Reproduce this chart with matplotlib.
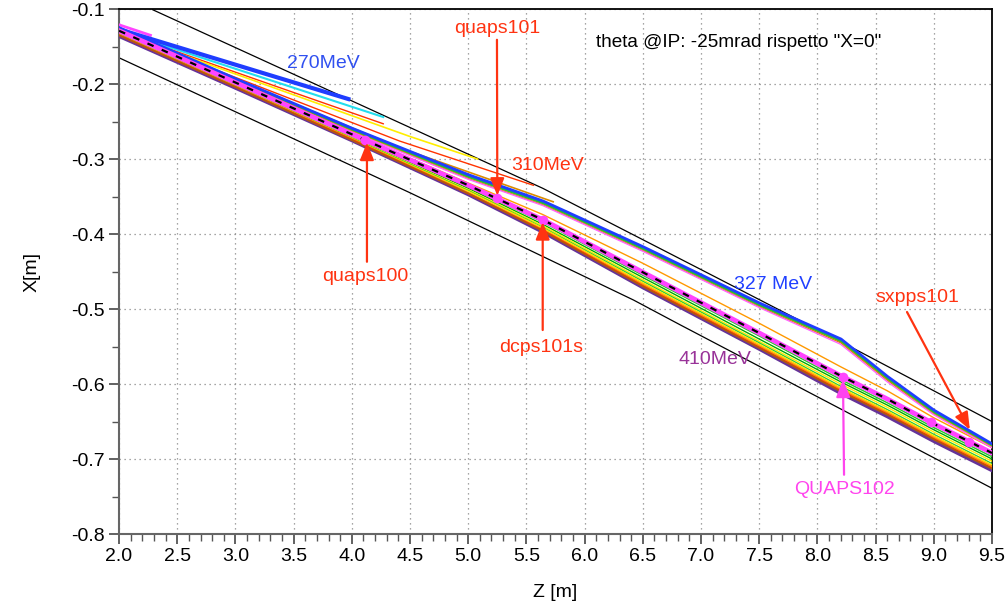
import matplotlib
matplotlib.use("Agg")
import matplotlib.pyplot as plt
from matplotlib.ticker import MultipleLocator

plt.rcParams['font.family'] = ['Liberation Sans', 'DejaVu Sans']

# posizioni lungo Z dove sono campionate le traiettorie [m]
z_knots = [2.0, 3.0, 4.0, 5.0, 5.64, 6.5, 7.5, 8.2, 8.6, 9.0, 9.5]

# orbita di riferimento
x_ref = [-0.129, -0.198, -0.267, -0.335, -0.381, -0.451, -0.532, -0.589, -0.620, -0.653, -0.692]

# gruppo alto (327 MeV e vicine)
x_327 = [-0.126, -0.194, -0.260, -0.322, -0.357, -0.418, -0.493, -0.541, -0.591, -0.636, -0.681]
x_up_green = [-0.127, -0.196, -0.262, -0.324, -0.359, -0.420, -0.495, -0.543, -0.593, -0.638, -0.683]
x_up_gold = [-0.127, -0.196, -0.263, -0.326, -0.361, -0.422, -0.497, -0.545, -0.595, -0.640, -0.684]
x_up_pink = [-0.128, -0.197, -0.264, -0.327, -0.362, -0.423, -0.498, -0.547, -0.597, -0.641, -0.685]
x_mid_orange = [-0.128, -0.197, -0.266, -0.332, -0.374, -0.439, -0.519, -0.577, -0.609, -0.645, -0.685]

# gruppo basso (fino a 410 MeV)
lower_tracks = [
    ('#22CC22', 1.0, [-0.130, -0.199, -0.269, -0.337, -0.384, -0.455, -0.536, -0.594, -0.625, -0.658, -0.697]),
    ('#00AA00', 1.0, [-0.131, -0.200, -0.270, -0.339, -0.387, -0.458, -0.540, -0.597, -0.628, -0.661, -0.700]),
    ('#FFEE00', 1.0, [-0.132, -0.201, -0.271, -0.341, -0.389, -0.461, -0.543, -0.600, -0.631, -0.664, -0.703]),
    ('#33CC33', 1.0, [-0.133, -0.202, -0.272, -0.342, -0.391, -0.463, -0.545, -0.603, -0.634, -0.667, -0.706]),
    ('#FFE000', 1.0, [-0.134, -0.203, -0.273, -0.343, -0.392, -0.465, -0.547, -0.605, -0.636, -0.669, -0.708]),
    ('#FF9900', 1.2, [-0.134, -0.203, -0.273, -0.345, -0.394, -0.467, -0.549, -0.607, -0.638, -0.671, -0.710]),
    ('#FF3300', 1.2, [-0.135, -0.204, -0.274, -0.346, -0.395, -0.469, -0.551, -0.609, -0.640, -0.673, -0.712]),
    ('#B05A10', 1.2, [-0.135, -0.204, -0.275, -0.346, -0.396, -0.470, -0.552, -0.610, -0.641, -0.674, -0.713]),
]
x_410 = [-0.136, -0.205, -0.275, -0.347, -0.397, -0.471, -0.553, -0.612, -0.643, -0.676, -0.715]

# traiettorie perse sulla camera (energie basse)
lost_tracks = [
    ('#FF44FF', 2.0, [2.0, 2.27], [-0.121, -0.135]),
    ('#22DDEE', 1.5, [2.0, 4.27], [-0.129, -0.244]),
    ('#FF3300', 1.0, [2.0, 4.27], [-0.130, -0.253]),
    ('#FFEE00', 1.2, [2.0, 4.5, 5.08], [-0.131, -0.270, -0.300]),
    ('#FF3300', 1.0, [2.0, 4.41, 5.56], [-0.131, -0.276, -0.335]),
    ('#D98C00', 1.2, [2.0, 4.41, 5.73], [-0.129, -0.285, -0.357]),
]
z_270 = [2.0, 3.97]
x_270 = [-0.127, -0.220]

# pareti della camera
z_wall_up = [2.29, 4.5, 5.64, 6.97, 8.17, 9.5]
x_wall_up = [-0.101, -0.258, -0.339, -0.445, -0.541, -0.650]
z_wall_dn = [2.0, 4.5, 6.42, 6.82, 9.5]
x_wall_dn = [-0.165, -0.345, -0.488, -0.521, -0.739]

# magneti sull'orbita di riferimento
magnet_z = [4.11, 5.25, 5.64, 8.22, 8.98, 9.30]
magnet_x = [-0.275, -0.352, -0.381, -0.591, -0.651, -0.677]

RED = '#FF3311'

fig = plt.figure(figsize=(10.08, 6.06), dpi=100)
ax = fig.add_axes([0.1181, 0.1188, 0.8660, 0.8663])

ax.plot(z_wall_up, x_wall_up, color='black', lw=0.9, zorder=2)
ax.plot(z_wall_dn, x_wall_dn, color='black', lw=0.9, zorder=2)

for color, lw, zs, xs in lost_tracks:
    ax.plot(zs, xs, color=color, lw=lw, zorder=3)
ax.plot(z_270, x_270, color='#1F3DFF', lw=3, zorder=3)

ax.plot(z_knots, x_410, color='#663399', lw=2.8, zorder=3)
for color, lw, xs in lower_tracks:
    ax.plot(z_knots, xs, color=color, lw=lw, zorder=4)

ax.plot(z_knots, x_mid_orange, color='#FF9900', lw=1.0, zorder=4)
ax.plot(z_knots, x_327, color='#1F3DFF', lw=3.2, zorder=4)
ax.plot(z_knots, x_up_green, color='#22CC22', lw=1.0, zorder=5)
ax.plot(z_knots, x_up_gold, color='#D98C00', lw=1.0, zorder=5)
ax.plot(z_knots, x_up_pink, color='#FF66FF', lw=1.0, zorder=5)

# orbita centrale: magenta con tratteggio nero sopra
ax.plot(z_knots, x_ref, color='#FF44FF', lw=3.5, zorder=6)
ax.plot(z_knots, x_ref, color='black', lw=1.6, dashes=(3, 4), zorder=7)
ax.plot(magnet_z, magnet_x, 'o', color='#FF44FF', ms=7, mec='none', zorder=8)

# etichette delle energie
ax.text(3.753, -0.172, '270MeV', color='#3050F0', fontsize=14, ha='center', va='center')
ax.text(5.686, -0.308, '310MeV', color=RED, fontsize=14, ha='center', va='center')
ax.text(7.618, -0.4667, '327 MeV', color='#2040FF', fontsize=14, ha='center', va='center')
ax.text(7.12, -0.5667, '410MeV', color='#993399', fontsize=14, ha='center', va='center')

ax.text(6.098, -0.144, 'theta @IP: -25mrad rispetto "X=0"', color='black',
        fontsize=13.7, ha='left', va='center')

# magneti con freccia
arrows = [
    ('quaps101', (5.247, -0.1253), (5.247, -0.141), (5.25, -0.349), RED),
    ('quaps100', (4.113, -0.457), (4.13, -0.437), (4.13, -0.278), RED),
    ('dcps101s', (5.625, -0.551), (5.64, -0.528), (5.64, -0.384), RED),
    ('QUAPS102', (8.229, -0.741), (8.229, -0.721), (8.22, -0.594), '#FF44EE'),
    ('sxpps101', (8.856, -0.485), (8.77, -0.504), (9.31, -0.661), RED),
]
for label, txt_pos, start, tip, color in arrows:
    ax.text(txt_pos[0], txt_pos[1], label, color=color, fontsize=14,
            ha='center', va='center')
    ax.annotate('', xy=tip, xytext=start,
                arrowprops=dict(arrowstyle='-|>,head_length=0.7,head_width=0.28',
                                color=color, lw=1.6, mutation_scale=15,
                                shrinkA=0, shrinkB=0), zorder=9)

ax.set_xlim(2.0, 9.5)
ax.set_ylim(-0.8, -0.1)
ax.xaxis.set_major_locator(MultipleLocator(0.5))
ax.xaxis.set_minor_locator(MultipleLocator(0.1))
ax.yaxis.set_major_locator(MultipleLocator(0.1))
ax.yaxis.set_minor_locator(MultipleLocator(0.05))
ax.xaxis.set_major_formatter(plt.FormatStrFormatter('%.1f'))
ax.yaxis.set_major_formatter(plt.FormatStrFormatter('%.1f'))

ax.grid(True, which='major', color='#888888', lw=0.9, linestyle=(0, (1, 3)))
ax.set_axisbelow(True)

for side in ('left', 'bottom'):
    ax.spines[side].set_color('#666666')
    ax.spines[side].set_linewidth(1.5)
for side in ('top', 'right'):
    ax.spines[side].set_color('black')
    ax.spines[side].set_linewidth(1.3)

ax.tick_params(which='major', direction='out', length=7, width=1.3,
               color='#555555', labelsize=14, pad=3)
ax.tick_params(which='minor', direction='out', length=5, width=1.0, color='#555555')

ax.set_xlabel('Z [m]', fontsize=14, labelpad=14)
ax.set_ylabel('X[m]', fontsize=14, labelpad=22)

fig.savefig('out.png', dpi=100)
